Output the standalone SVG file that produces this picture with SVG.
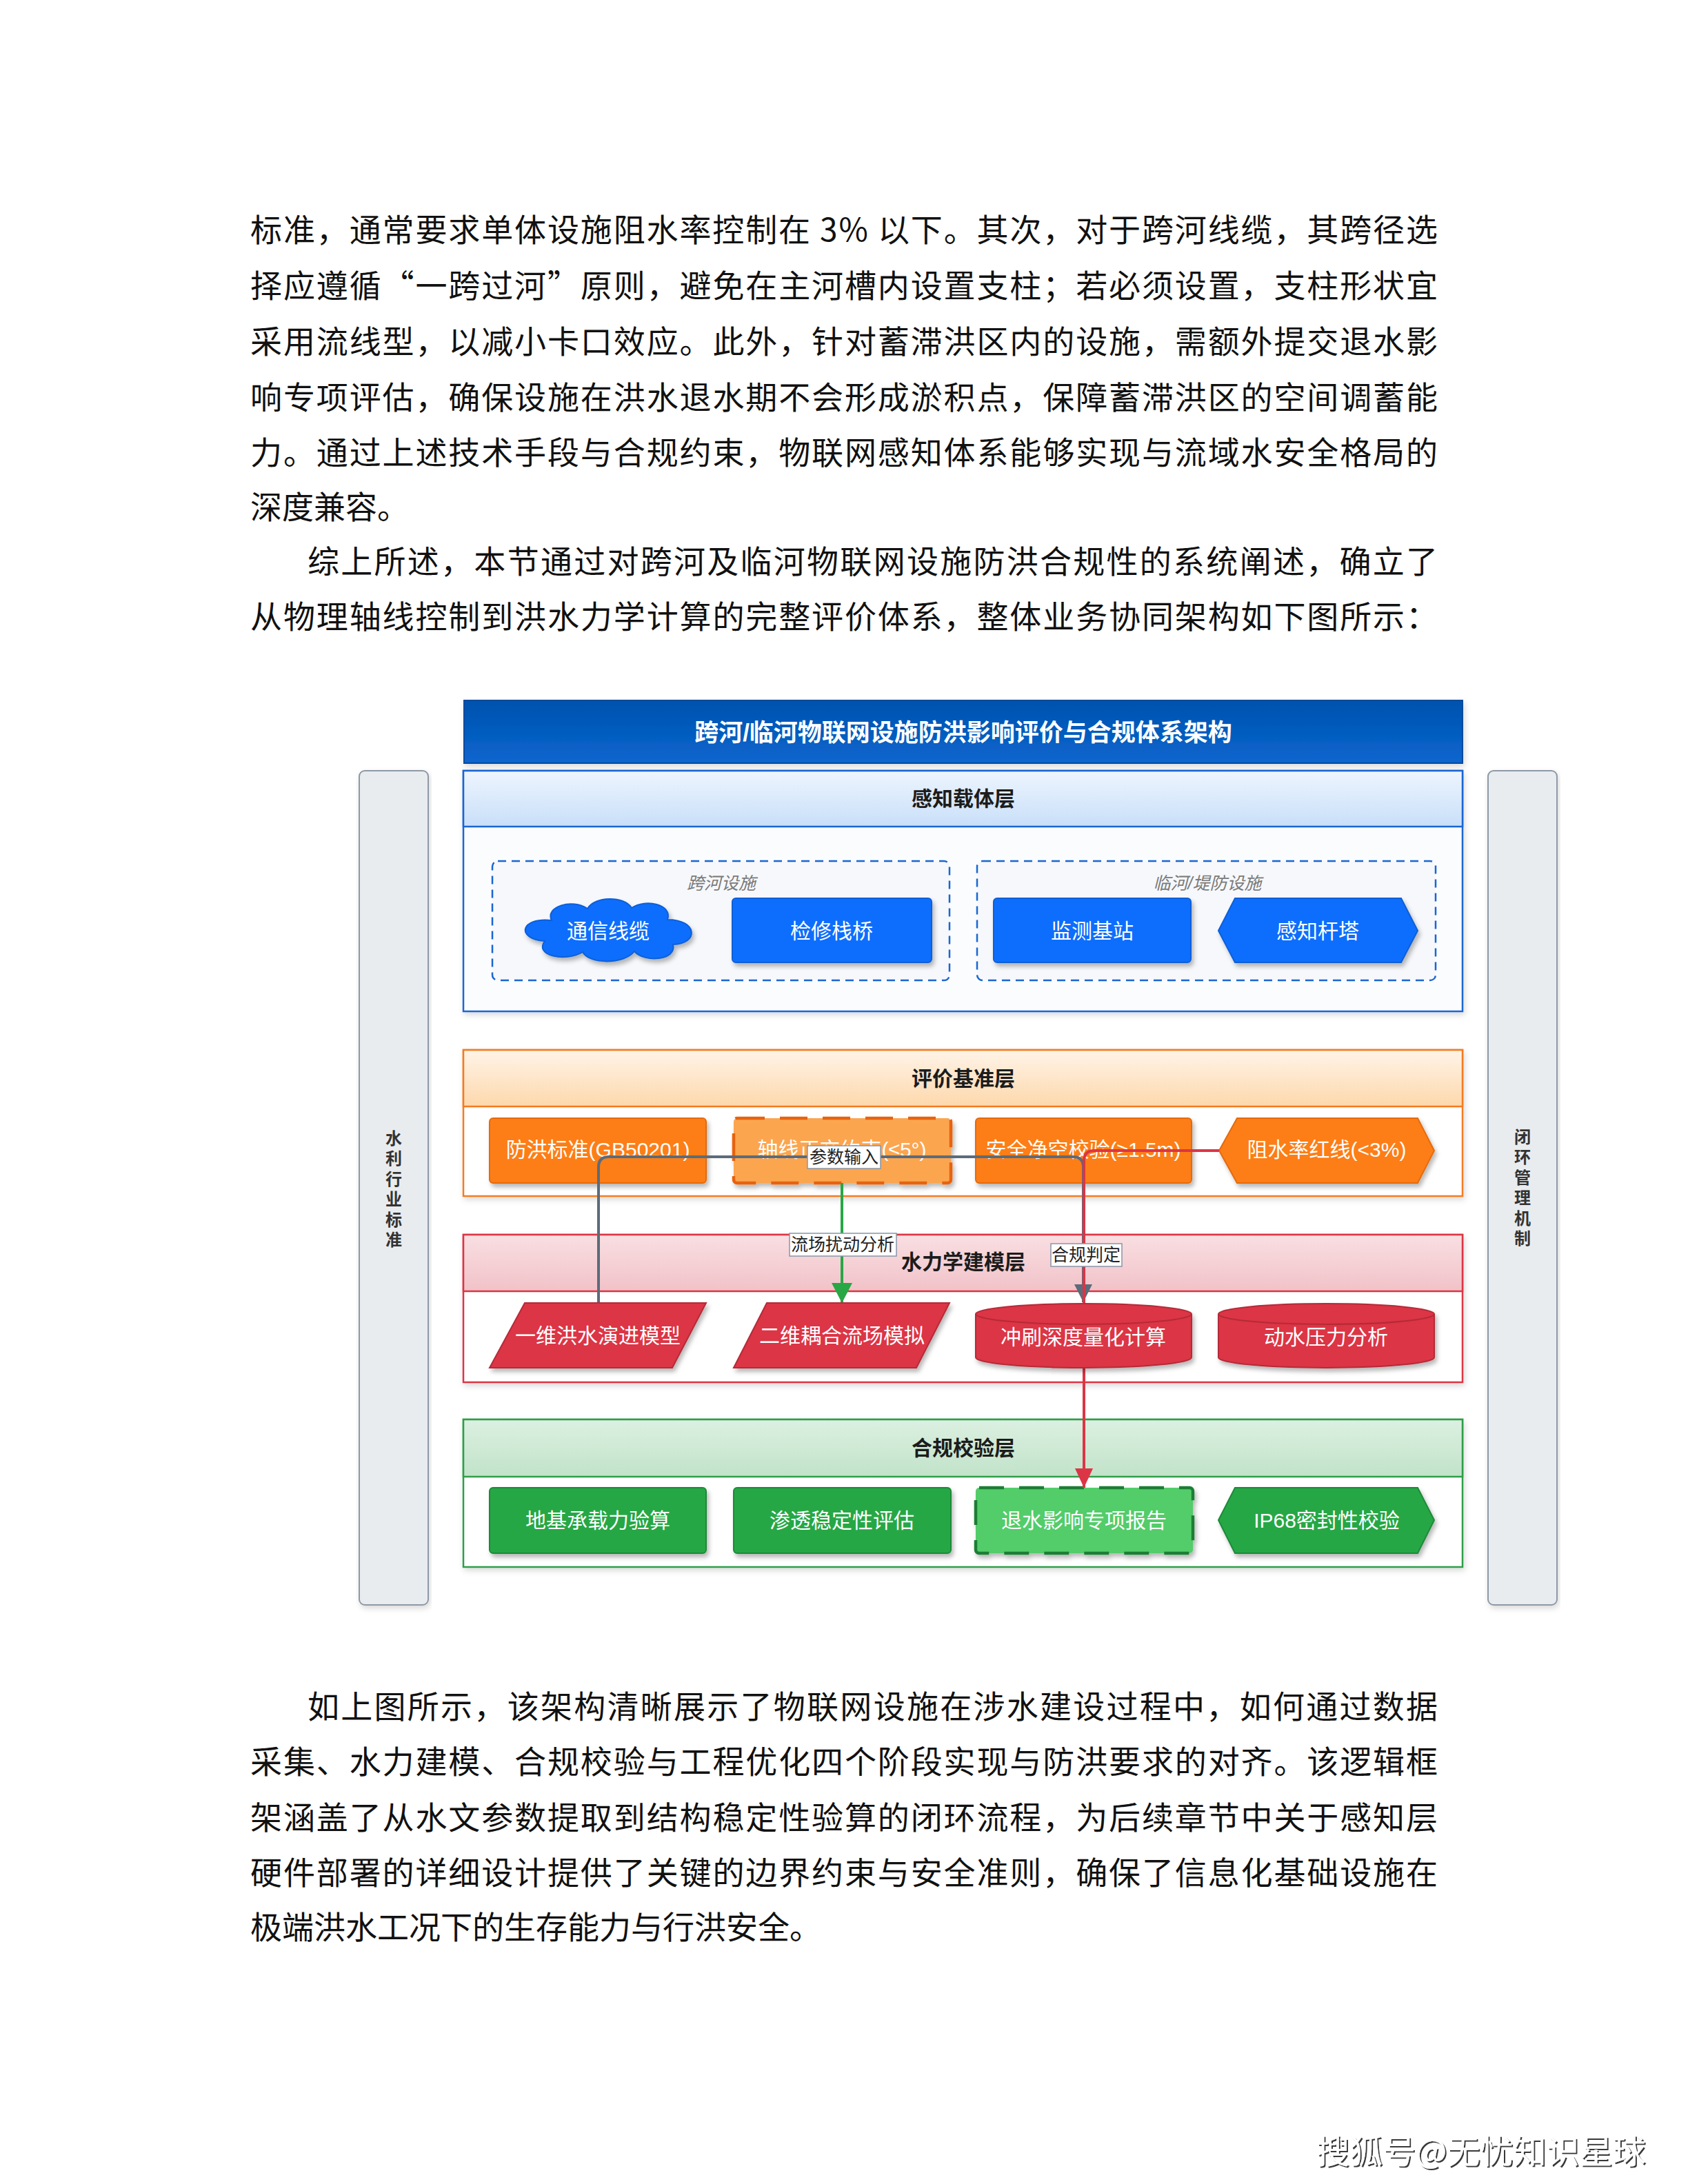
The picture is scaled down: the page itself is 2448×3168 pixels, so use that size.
<svg xmlns="http://www.w3.org/2000/svg" width="2448" height="3168" viewBox="0 0 2448 3168">
<defs>
  <linearGradient id="gTitle" x1="0" y1="0" x2="0" y2="1"><stop offset="0" stop-color="#0052AE"/><stop offset="1" stop-color="#0A66CF"/></linearGradient>
  <linearGradient id="gBlue" x1="0" y1="0" x2="0" y2="1"><stop offset="0" stop-color="#EEF5FE"/><stop offset="1" stop-color="#C8DFF9"/></linearGradient>
  <linearGradient id="gOrange" x1="0" y1="0" x2="0" y2="1"><stop offset="0" stop-color="#FFF4E8"/><stop offset="1" stop-color="#FDD8AC"/></linearGradient>
  <linearGradient id="gRed" x1="0" y1="0" x2="0" y2="1"><stop offset="0" stop-color="#F9DFE2"/><stop offset="1" stop-color="#F1C2C8"/></linearGradient>
  <linearGradient id="gGreen" x1="0" y1="0" x2="0" y2="1"><stop offset="0" stop-color="#DCF0E1"/><stop offset="1" stop-color="#C1E3C9"/></linearGradient>
  <filter id="sh" x="-10%" y="-10%" width="130%" height="150%"><feDropShadow dx="3" dy="5" stdDeviation="3" flood-color="#000" flood-opacity="0.28"/></filter>
  <filter id="shL" x="-5%" y="-5%" width="110%" height="120%"><feDropShadow dx="2" dy="4" stdDeviation="4" flood-color="#000" flood-opacity="0.15"/></filter>
  <filter id="wm" x="-5%" y="-20%" width="110%" height="150%"><feDropShadow dx="2" dy="2" stdDeviation="0.6" flood-color="#222" flood-opacity="0.9"/></filter>
  <marker id="aGray" markerUnits="userSpaceOnUse" markerWidth="28" markerHeight="28" refX="26" refY="13" orient="auto" viewBox="0 0 28 26"><path d="M0,0 L26,13 L0,26 Z" fill="#5C6B7A"/></marker>
  <marker id="aGreen" markerUnits="userSpaceOnUse" markerWidth="30" markerHeight="30" refX="29" refY="15" orient="auto" viewBox="0 0 30 30"><path d="M0,0 L29,15 L0,30 Z" fill="#28A745"/></marker>
  <marker id="aRed" markerUnits="userSpaceOnUse" markerWidth="28" markerHeight="28" refX="28" refY="13" orient="auto" viewBox="0 0 28 26"><path d="M0,0 L28,13 L0,26 Z" fill="#DC3545"/></marker>
</defs>
<style>
  .body{font-family:"Noto Sans CJK SC","Noto Sans CJK JP",sans-serif;font-size:46px;fill:#111}
  .title{font-family:"Liberation Sans","Noto Sans CJK SC",sans-serif;font-size:35px;font-weight:bold;fill:#fff;text-anchor:middle;dominant-baseline:central}
  .hdr{font-family:"Liberation Sans","Noto Sans CJK SC",sans-serif;font-size:30px;font-weight:bold;fill:#1c1c1c;text-anchor:middle;dominant-baseline:central}
  .nt{font-family:"Liberation Sans","Noto Sans CJK SC",sans-serif;font-size:30px;fill:#fff;text-anchor:middle;dominant-baseline:central}
  .gl{font-family:"Liberation Sans","Noto Sans CJK SC",sans-serif;font-size:25px;font-style:italic;fill:#7a7a7a;text-anchor:middle;dominant-baseline:central}
  .el{font-family:"Liberation Sans","Noto Sans CJK SC",sans-serif;font-size:25px;fill:#222;text-anchor:middle;dominant-baseline:central}
  .side{font-family:"Liberation Sans","Noto Sans CJK SC",sans-serif;font-size:24px;font-weight:bold;fill:#333;text-anchor:middle;dominant-baseline:central}
  .lbl{fill:#fff;stroke:#8796A8;stroke-width:1.5}
  .edge{fill:none;stroke-width:4}
  .nblue{fill:#0D6EFD;stroke:#0B5ED7;stroke-width:2}
  .norange{fill:#FD7E14;stroke:#E56B0A;stroke-width:2}
  .nred{fill:#DC3545;stroke:#B52A37;stroke-width:2}
  .ngreen{fill:#28A745;stroke:#1E8A38;stroke-width:2}
  .sidebar{fill:#E9ECEF;stroke:#8E99A6;stroke-width:2}
</style>
<rect x="0" y="0" width="2448" height="3168" fill="#ffffff"/>

<g id="body-top">
  <text class="body" x="363" y="350" textLength="1722" lengthAdjust="spacing">标准，通常要求单体设施阻水率控制在 3% 以下。其次，对于跨河线缆，其跨径选</text>
  <text class="body" x="363" y="431" textLength="1722" lengthAdjust="spacing">择应遵循“一跨过河”原则，避免在主河槽内设置支柱；若必须设置，支柱形状宜</text>
  <text class="body" x="363" y="512" textLength="1722" lengthAdjust="spacing">采用流线型，以减小卡口效应。此外，针对蓄滞洪区内的设施，需额外提交退水影</text>
  <text class="body" x="363" y="593" textLength="1722" lengthAdjust="spacing">响专项评估，确保设施在洪水退水期不会形成淤积点，保障蓄滞洪区的空间调蓄能</text>
  <text class="body" x="363" y="673" textLength="1722" lengthAdjust="spacing">力。通过上述技术手段与合规约束，物联网感知体系能够实现与流域水安全格局的</text>
  <text class="body" x="363" y="752">深度兼容。</text>
  <text class="body" x="446" y="831" textLength="1639" lengthAdjust="spacing">综上所述，本节通过对跨河及临河物联网设施防洪合规性的系统阐述，确立了</text>
  <text class="body" x="363" y="911" textLength="1722" lengthAdjust="spacing">从物理轴线控制到洪水力学计算的完整评价体系，整体业务协同架构如下图所示：</text>
</g>

<g id="side-left">
  <rect class="sidebar" x="521" y="1118" width="100" height="1210" rx="8" filter="url(#shL)"/>
  <text class="side"><tspan x="571" y="1651">水</tspan><tspan x="571" y="1680">利</tspan><tspan x="571" y="1710">行</tspan><tspan x="571" y="1739">业</tspan><tspan x="571" y="1769">标</tspan><tspan x="571" y="1798">准</tspan></text>
</g>
<g id="side-right">
  <rect class="sidebar" x="2158" y="1118" width="100" height="1210" rx="8" filter="url(#shL)"/>
  <text class="side"><tspan x="2208" y="1649">闭</tspan><tspan x="2208" y="1678">环</tspan><tspan x="2208" y="1708">管</tspan><tspan x="2208" y="1737">理</tspan><tspan x="2208" y="1767">机</tspan><tspan x="2208" y="1796">制</tspan></text>
</g>

<g id="title">
  <rect x="673" y="1016" width="1448" height="91" fill="url(#gTitle)" stroke="#004C9E" stroke-width="2" filter="url(#shL)"/>
  <text class="title" x="1397" y="1062">跨河/临河物联网设施防洪影响评价与合规体系架构</text>
</g>

<g id="layer-sensing">
  <rect x="672" y="1118" width="1449" height="349" fill="#FBFCFE" stroke="#1A66D2" stroke-width="2.5" filter="url(#shL)"/>
  <rect x="672" y="1118" width="1449" height="81" fill="url(#gBlue)" stroke="#1A66D2" stroke-width="2.5"/>
  <text class="hdr" x="1397" y="1158">感知载体层</text>
</g>
<g id="group-kuahe">
  <rect x="714" y="1249" width="663" height="173" rx="8" fill="#F6F8FB" stroke="#1A66D2" stroke-width="2.5" stroke-dasharray="12 8"/>
  <text class="gl" x="1046" y="1281">跨河设施</text>
</g>
<g id="group-linhe">
  <rect x="1417" y="1249" width="665" height="173" rx="8" fill="#F6F8FB" stroke="#1A66D2" stroke-width="2.5" stroke-dasharray="12 8"/>
  <text class="gl" x="1751" y="1281">临河/堤防设施</text>
</g>

<g id="layer-eval">
  <rect x="672" y="1523" width="1449" height="212" fill="#FFFFFF" stroke="#F47B20" stroke-width="2.5" filter="url(#shL)"/>
  <rect x="672" y="1523" width="1449" height="82" fill="url(#gOrange)" stroke="#F47B20" stroke-width="2.5"/>
  <text class="hdr" x="1397" y="1564">评价基准层</text>
</g>
<g id="layer-hydro">
  <rect x="672" y="1791" width="1449" height="214" fill="#FFFFFF" stroke="#DC3545" stroke-width="2.5" filter="url(#shL)"/>
  <rect x="672" y="1791" width="1449" height="82" fill="url(#gRed)" stroke="#DC3545" stroke-width="2.5"/>
  <text class="hdr" x="1397" y="1830">水力学建模层</text>
</g>
<g id="layer-comp">
  <rect x="672" y="2059" width="1449" height="214" fill="#FFFFFF" stroke="#2E9E48" stroke-width="2.5" filter="url(#shL)"/>
  <rect x="672" y="2059" width="1449" height="83" fill="url(#gGreen)" stroke="#2E9E48" stroke-width="2.5"/>
  <text class="hdr" x="1397" y="2100">合规校验层</text>
</g>

<g id="n-tongxin">
  <path class="nblue" filter="url(#sh)" d="M800 1335 C790 1315 830 1303 852 1318 C862 1300 905 1299 916 1317 C936 1303 976 1312 968 1334 C1012 1334 1014 1369 976 1370 C982 1393 935 1397 920 1380 C905 1399 855 1399 845 1381 C820 1396 774 1386 790 1365 C748 1362 754 1330 800 1335 Z"/>
  <text class="nt" x="882" y="1350">通信线缆</text>
</g>
<g id="n-jianxiu">
  <rect class="nblue" filter="url(#sh)" x="1062" y="1303" width="289" height="93" rx="5"/>
  <text class="nt" x="1206" y="1350">检修栈桥</text>
</g>
<g id="n-jiance">
  <rect class="nblue" filter="url(#sh)" x="1441" y="1303" width="286" height="93" rx="5"/>
  <text class="nt" x="1584" y="1350">监测基站</text>
</g>
<g id="n-ganzhi">
  <polygon class="nblue" filter="url(#sh)" points="1791,1303 2032,1303 2056,1350 2032,1396 1791,1396 1767,1350"/>
  <text class="nt" x="1911" y="1350">感知杆塔</text>
</g>

<g id="n-fanghong">
  <rect class="norange" filter="url(#sh)" x="710" y="1622" width="314" height="94" rx="5"/>
  <text class="nt" x="867" y="1667">防洪标准(GB50201)</text>
</g>
<g id="n-zhouxian">
  <rect filter="url(#sh)" x="1064" y="1622" width="315" height="94" rx="5" fill="#FCA550" stroke="#E8620C" stroke-width="4.5" stroke-dasharray="40 22"/>
  <text class="nt" x="1221" y="1667">轴线正交约束(≤5°)</text>
</g>
<g id="n-anquan">
  <rect class="norange" filter="url(#sh)" x="1415" y="1622" width="313" height="94" rx="5"/>
  <text class="nt" x="1571" y="1667">安全净空校验(≥1.5m)</text>
</g>
<g id="n-zushui">
  <polygon class="norange" filter="url(#sh)" points="1794,1622 2056,1622 2080,1669 2056,1716 1794,1716 1768,1669"/>
  <text class="nt" x="1924" y="1667">阻水率红线(&lt;3%)</text>
</g>

<g id="n-diji">
  <rect class="ngreen" filter="url(#sh)" x="710" y="2158" width="314" height="95" rx="5"/>
  <text class="nt" x="867" y="2205">地基承载力验算</text>
</g>
<g id="n-shentou">
  <rect class="ngreen" filter="url(#sh)" x="1064" y="2158" width="315" height="95" rx="5"/>
  <text class="nt" x="1221" y="2205">渗透稳定性评估</text>
</g>
<g id="n-tuishui">
  <rect filter="url(#sh)" x="1415" y="2158" width="315" height="95" rx="5" fill="#52CC6A" stroke="#1E7E34" stroke-width="4.5" stroke-dasharray="36 22"/>
  <text class="nt" x="1572" y="2205">退水影响专项报告</text>
</g>
<g id="n-ip68">
  <polygon class="ngreen" filter="url(#sh)" points="1791,2158 2056,2158 2080,2205 2056,2253 1791,2253 1767,2205"/>
  <text class="nt" x="1924" y="2205">IP68密封性校验</text>
</g>

<g id="connectors">
  <path class="edge" stroke="#5C6B7A" d="M868 1890 V1693 Q868 1678 883 1678 H1556 Q1571 1678 1571 1693 V1889" marker-end="url(#aGray)"/>
  <path class="edge" stroke="#28A745" d="M1221 1716 V1890" marker-end="url(#aGreen)"/>
  <path class="edge" stroke="#DC3545" d="M1768 1669 H1587 Q1572 1669 1572 1684 V2158" marker-end="url(#aRed)"/>
  <g id="lbl-canshu"><rect class="lbl" x="1171" y="1662" width="106" height="33"/><text class="el" x="1224" y="1678">参数输入</text></g>
  <g id="lbl-liuchang"><rect class="lbl" x="1145" y="1789" width="155" height="33"/><text class="el" x="1222" y="1805">流场扰动分析</text></g>
  <g id="lbl-hegui"><rect class="lbl" x="1524" y="1804" width="103" height="33"/><text class="el" x="1575" y="1820">合规判定</text></g>
</g>

<g id="n-yiwei">
  <polygon class="nred" filter="url(#sh)" points="761,1890 1024,1890 975,1984 710,1984"/>
  <text class="nt" x="867" y="1937">一维洪水演进模型</text>
</g>
<g id="n-erwei">
  <polygon class="nred" filter="url(#sh)" points="1112,1890 1377,1890 1329,1984 1064,1984"/>
  <text class="nt" x="1221" y="1937">二维耦合流场模拟</text>
</g>
<g id="n-chongshua">
  <path class="nred" filter="url(#sh)" d="M1415 1906 A156.5 15 0 0 1 1728 1906 V1969 A156.5 15 0 0 1 1415 1969 Z"/>
  <path d="M1415 1906 A156.5 15 0 0 0 1728 1906" fill="none" stroke="#B52A37" stroke-width="2"/>
  <text class="nt" x="1571" y="1939">冲刷深度量化计算</text>
</g>
<g id="n-dongshui">
  <path class="nred" filter="url(#sh)" d="M1767 1906 A156.5 15 0 0 1 2080 1906 V1969 A156.5 15 0 0 1 1767 1969 Z"/>
  <path d="M1767 1906 A156.5 15 0 0 0 2080 1906" fill="none" stroke="#B52A37" stroke-width="2"/>
  <text class="nt" x="1923" y="1939">动水压力分析</text>
</g>

<g id="body-bottom">
  <text class="body" x="446" y="2492" textLength="1639" lengthAdjust="spacing">如上图所示，该架构清晰展示了物联网设施在涉水建设过程中，如何通过数据</text>
  <text class="body" x="363" y="2572" textLength="1722" lengthAdjust="spacing">采集、水力建模、合规校验与工程优化四个阶段实现与防洪要求的对齐。该逻辑框</text>
  <text class="body" x="363" y="2653" textLength="1722" lengthAdjust="spacing">架涵盖了从水文参数提取到结构稳定性验算的闭环流程，为后续章节中关于感知层</text>
  <text class="body" x="363" y="2733" textLength="1722" lengthAdjust="spacing">硬件部署的详细设计提供了关键的边界约束与安全准则，确保了信息化基础设施在</text>
  <text class="body" x="363" y="2812">极端洪水工况下的生存能力与行洪安全。</text>
</g>

<g id="watermark">
  <text x="1909" y="3138" font-family="'Noto Sans CJK SC',sans-serif" font-size="48" fill="#ffffff" filter="url(#wm)">搜狐号@无忧知识星球</text>
</g>
</svg>
